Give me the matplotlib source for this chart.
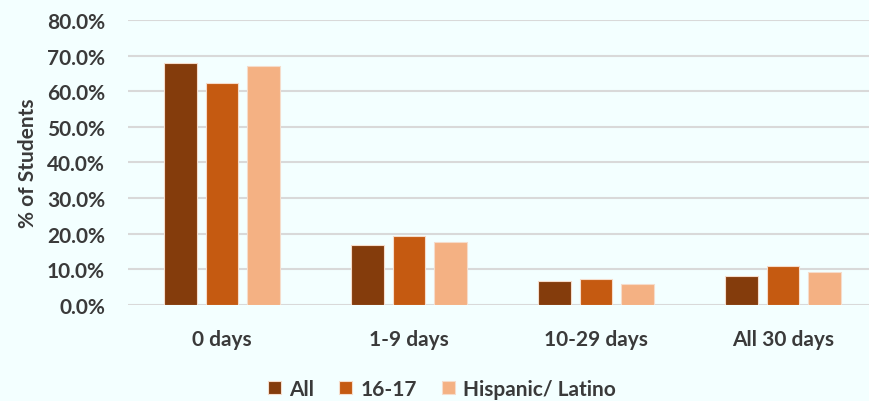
import numpy as np
import matplotlib.pyplot as plt
from matplotlib.ticker import FuncFormatter

# Days used in the past 30 days, share of students per group
categories = ["0 days", "1-9 days", "10-29 days", "All 30 days"]
all_students = [68.0, 16.8, 6.7, 8.1]
age_16_17 = [62.4, 19.3, 7.2, 10.9]
hispanic_latino = [67.0, 17.6, 6.0, 9.2]

series = [("All", all_students, "#843C0C"),
          ("16-17", age_16_17, "#C55A11"),
          ("Hispanic/ Latino", hispanic_latino, "#F4B183")]

bg = "#F3FFFF"
text_color = "#3A3A3A"

plt.rcParams["font.family"] = ["Lato", "DejaVu Sans"]
plt.rcParams["font.weight"] = "bold"
plt.rcParams["axes.labelweight"] = "bold"

fig = plt.figure(figsize=(8.7, 4.02), dpi=100, facecolor=bg)
ax = fig.add_axes([0.1477, 0.2388, 0.8598, 0.709], facecolor=bg)

x = np.arange(len(categories))
width = 0.176
step = 0.222
for i, (name, vals, color) in enumerate(series):
    ax.bar(x + (i - 1) * step, vals, width, color=color, label=name,
           edgecolor="#F5DCCB", linewidth=0.8, zorder=3)

ax.set_xlim(-0.5, 3.5)
ax.set_ylim(0, 80)
ax.set_yticks(np.arange(0, 81, 10))
ax.yaxis.set_major_formatter(FuncFormatter(lambda v, _: f"{v:.1f}%"))
ax.set_xticks(x)
ax.set_xticklabels(categories)
ax.grid(axis="y", color="#D9D9D9", linewidth=1.5, zorder=0)
for s in ax.spines.values():
    s.set_visible(False)
ax.tick_params(axis="y", length=0, pad=17, labelsize=15, labelcolor=text_color)
ax.tick_params(axis="x", length=0, pad=17, labelsize=15, labelcolor=text_color)
ax.set_ylabel("% of Students", fontsize=15, fontweight="bold",
              color=text_color, labelpad=6)

fig.legend(loc="center", bbox_to_anchor=(0.508, 0.03), ncol=3, frameon=False,
           fontsize=15, labelcolor=text_color, handlelength=0.62,
           handleheight=0.62, handletextpad=0.4, columnspacing=1.2)

fig.savefig("out.png", dpi=100, facecolor=bg)
